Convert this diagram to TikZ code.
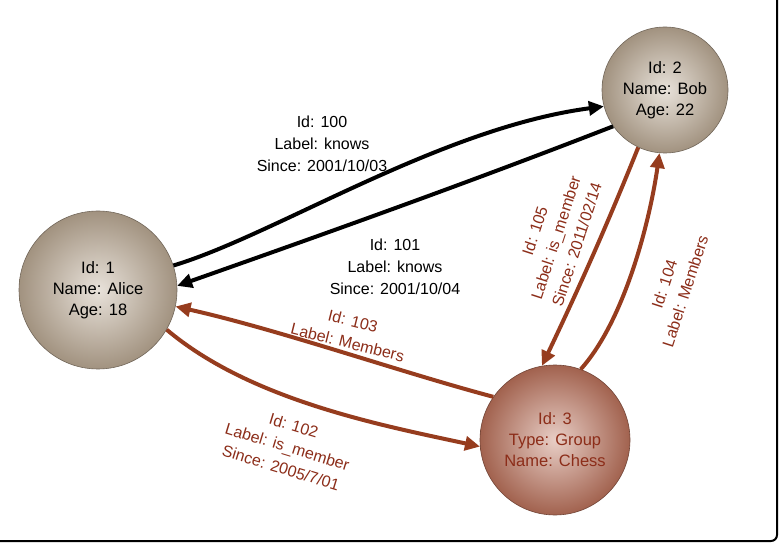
\documentclass[tikz,border=0pt]{standalone}
\usepackage{fontspec}
\setmainfont{Liberation Sans}
\usetikzlibrary{arrows.meta}
\definecolor{tan}{RGB}{190,172,150}
\definecolor{rust}{RGB}{190,115,92}
\definecolor{brn}{RGB}{150,60,30}
\definecolor{txtred}{RGB}{140,45,25}
\tikzset{
  vert/.style={circle,inner color=#1!35!white,outer color=#1!85!black,draw=#1!60!black,line width=0.6pt,inner sep=0pt,align=center,font=\fontsize{16.5}{21}\selectfont},
  blk/.style={line width=4pt,draw=black,-{Triangle[length=15pt,width=14pt]}},
  red/.style={line width=4pt,draw=brn,-{Triangle[length=15pt,width=14pt]}},
  lab/.style={inner sep=1pt,font=\fontsize{16}{21}\selectfont},
}
\newcommand{\ml}[1]{\renewcommand{\arraystretch}{1.05}\begin{tabular}{@{}c@{}}#1\end{tabular}}
\begin{document}
\begin{tikzpicture}[x=1pt,y=-1pt]
\useasboundingbox (0,0) rectangle (782,545);
\fill[white] (0,0) rectangle (782,545);
\draw[line width=2pt,rounded corners=6pt] (777,0) -- (777,541) -- (0,541);
\node[vert=tan,minimum size=158pt] (alice) at (98,290) {Id: 1\\Name: Alice\\Age: 18};
\node[vert=tan,minimum size=126pt] (bob) at (665,90) {Id: 2\\Name: Bob\\Age: 22};
\node[vert=rust,minimum size=150pt,text=txtred] (chess) at (555,440) {Id: 3\\Type: Group\\Name: Chess};
\draw[blk] (alice.18) .. controls (275,235) and (440,128) .. (bob.195);
\draw[blk] (bob.215) .. controls (470,182) and (330,232) .. (alice.3);
\draw[red] (chess.145) .. controls (400,372) and (280,330) .. (alice.-12);
\draw[red] (alice.-30) .. controls (250,400) and (380,425) .. (chess.185);
\draw[red] (bob.245) .. controls (605,230) and (578,290) .. (chess.100);
\draw[red] (chess.70) .. controls (625,320) and (650,220) .. (bob.265);
\node[lab] (l100) at (322,145) {\ml{Id: 100\\Label: knows\\Since: 2001/10/03}};
\node[lab] (l101) at (395,268) {\ml{Id: 101\\Label: knows\\Since: 2001/10/04}};
\node[lab,text=txtred,rotate=-14] (l103) at (350,333) {\ml{Id: 103\\Label: Members}};
\node[lab,text=txtred,rotate=-17] (l102) at (287,448) {\ml{Id: 102\\Label: is\_member\\Since: 2005/7/01}};
\node[lab,text=txtred,rotate=72] (l105) at (557,238) {\ml{Id: 105\\Label: is\_member\\Since: 2011/02/14}};
\node[lab,text=txtred,rotate=72] (l104) at (676,288) {\ml{Id: 104\\Label: Members}};
\end{tikzpicture}
\end{document}
